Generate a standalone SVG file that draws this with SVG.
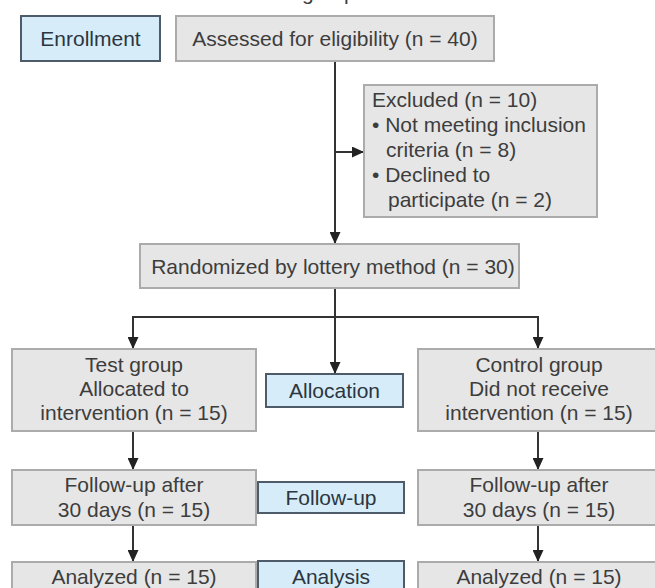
<svg xmlns="http://www.w3.org/2000/svg" width="655" height="588" viewBox="0 0 655 588">
<style>
.box{fill:#e6e6e6;stroke:#ababab;stroke-width:2}
.lbl{fill:#d6edf9;stroke:#4e5c6a;stroke-width:2}
.t{font-family:"Liberation Sans",Arial,sans-serif;font-size:21px;fill:#3d3d3d;text-anchor:middle}
.tl{font-family:"Liberation Sans",Arial,sans-serif;font-size:21px;fill:#3d3d3d;text-anchor:start}
.tb{fill:#2c3640}
.c{fill:none;stroke:#333;stroke-width:2}
</style>
<defs>
<marker id="ah" viewBox="0 0 12 11" refX="12" refY="5.5" markerWidth="12" markerHeight="11" markerUnits="userSpaceOnUse" orient="auto">
<path d="M0,0 L12,5.5 L0,11 Z" fill="#222"/>
</marker>
</defs>
<rect width="655" height="588" fill="#ffffff"/>
<text class="tl" x="302" y="0" fill="#222">groups</text>
<g id="connectors">
<path class="c" d="M335,61 V244" marker-end="url(#ah)"/>
<path class="c" d="M335,152 H364" marker-end="url(#ah)"/>
<path class="c" d="M335,288 V374" marker-end="url(#ah)"/>
<path class="c" d="M133,317 H538"/>
<path class="c" d="M133,316 V349" marker-end="url(#ah)"/>
<path class="c" d="M538,316 V349" marker-end="url(#ah)"/>
<path class="c" d="M133,431 V470" marker-end="url(#ah)"/>
<path class="c" d="M538,431 V470" marker-end="url(#ah)"/>
<path class="c" d="M133,525 V562" marker-end="url(#ah)"/>
<path class="c" d="M538,525 V562" marker-end="url(#ah)"/>
</g>
<g id="enrollment">
<rect class="lbl" x="21" y="16" width="139" height="45"/>
<text class="t tb" x="90.5" y="46">Enrollment</text>
</g>
<g id="assessed">
<rect class="box" x="176" y="16" width="318" height="45"/>
<text class="t" x="335" y="46">Assessed for eligibility (n = 40)</text>
</g>
<g id="excluded">
<rect class="box" x="364" y="85" width="233" height="132"/>
<text class="tl" x="372" y="107">Excluded (n = 10)</text>
<text class="tl" x="372" y="132">• Not meeting inclusion</text>
<text class="tl" x="386" y="157">criteria (n = 8)</text>
<text class="tl" x="372" y="182">• Declined to</text>
<text class="tl" x="388" y="207">participate (n = 2)</text>
</g>
<g id="randomized">
<rect class="box" x="140" y="244" width="379" height="44"/>
<text class="t" x="333" y="274">Randomized by lottery method (n = 30)</text>
</g>
<g id="test-group">
<rect class="box" x="12" y="349" width="244" height="82"/>
<text class="t" x="134" y="372">Test group</text>
<text class="t" x="134" y="396">Allocated to</text>
<text class="t" x="134" y="420">intervention (n = 15)</text>
</g>
<g id="allocation">
<rect class="lbl" x="266" y="374" width="137" height="33"/>
<text class="t tb" x="334.5" y="398">Allocation</text>
</g>
<g id="control-group">
<rect class="box" x="418" y="349" width="244" height="82"/>
<text class="t" x="539" y="372">Control group</text>
<text class="t" x="539" y="396">Did not receive</text>
<text class="t" x="539" y="420">intervention (n = 15)</text>
</g>
<g id="followup-test">
<rect class="box" x="12" y="470" width="244" height="55"/>
<text class="t" x="134" y="492">Follow-up after</text>
<text class="t" x="134" y="517">30 days (n = 15)</text>
</g>
<g id="followup">
<rect class="lbl" x="258" y="482" width="146" height="31"/>
<text class="t tb" x="331" y="505">Follow-up</text>
</g>
<g id="followup-control">
<rect class="box" x="418" y="470" width="244" height="55"/>
<text class="t" x="539" y="492">Follow-up after</text>
<text class="t" x="539" y="517">30 days (n = 15)</text>
</g>
<g id="analyzed-test">
<rect class="box" x="12" y="562" width="244" height="40"/>
<text class="t" x="134" y="584">Analyzed (n = 15)</text>
</g>
<g id="analysis">
<rect class="lbl" x="258" y="561" width="146" height="40"/>
<text class="t tb" x="331" y="584">Analysis</text>
</g>
<g id="analyzed-control">
<rect class="box" x="418" y="562" width="244" height="40"/>
<text class="t" x="539" y="584">Analyzed (n = 15)</text>
</g>
</svg>
